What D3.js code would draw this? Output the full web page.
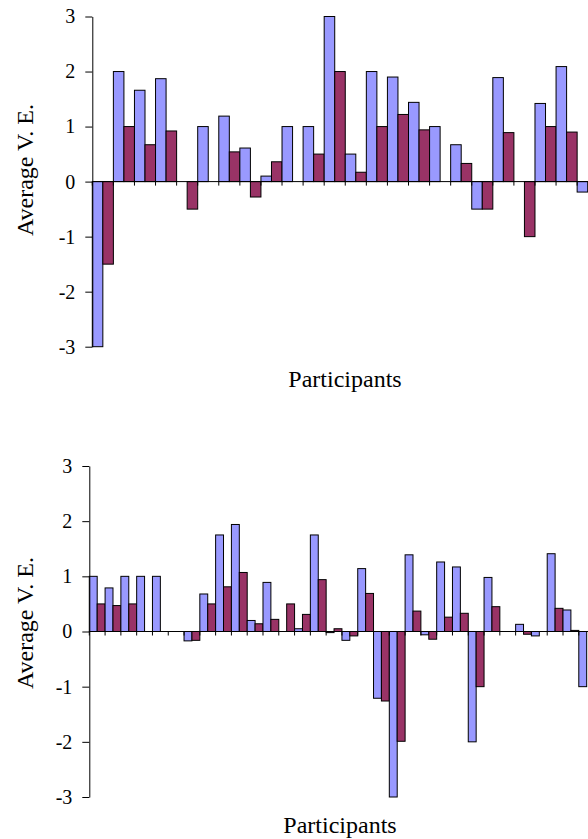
<!DOCTYPE html>
<html lang="en">
<head>
    <meta charset="UTF-8">
    <title>Average V. E. by participant</title>
    <script src="https://d3js.org/d3.v7.min.js"></script>
    <style>
        body { margin: 0; background: #fff; }
        svg { display: block; }
        svg text { font-family: "Liberation Serif", "Times New Roman", Times, serif; fill: #000; }
    </style>
</head>
<body>
    <svg id="chart" width="588" height="839"></svg>

<script>
    // values (blue = first series, maroon = second)
    var topBlue   = [-3, 2, 1.66, 1.87, 0, 1, 1.19, 0.61, 0.1, 1, 1, 3, 0.5, 2, 1.9, 1.44, 1, 0.67, -0.5, 1.89, 0, 1.42, 2.09, -0.19]
    var topMaroon = [-1.5, 1, 0.67, 0.92, -0.5, 0, 0.54, -0.28, 0.36, 0, 0.5, 2, 0.17, 1, 1.22, 0.94, 0, 0.33, -0.5, 0.89, -1, 1, 0.9, 0]

    var bottomBlue   = [1, 0.79, 1, 1, 1, 0, -0.17, 0.68, 1.75, 1.94, 0.2, 0.89, 0, 0.05, 1.75, -0.02, -0.16, 1.14, -1.21, -3, 1.39, -0.06, 1.26, 1.17, -2, 0.98, 0, 0.13, -0.08, 1.41, 0.39, -1]
    var bottomMaroon = [0.5, 0.47, 0.5, 0, 0, 0, -0.16, 0.5, 0.81, 1.07, 0.14, 0.22, 0.5, 0.31, 0.94, 0.05, -0.08, 0.69, -1.26, -1.99, 0.37, -0.14, 0.26, 0.33, -1, 0.45, 0, -0.05, 0, 0.42, 0.02, 0]

    var yTicks = [-3, -2, -1, 0, 1, 2, 3]
    var yTickLabels = ["-3", "-2", "-1", "0", "1", "2", "3"]
    var seriesKeys = ["blue", "maroon"]
    var colors = { blue: "#9999ff", maroon: "#993366" }

    var serif = "'Liberation Serif', 'Times New Roman', Times, serif"

    var svg = d3.select("#chart"),
        width = +svg.attr("width")

    function drawPanel(blue, maroon, left, step, yTop, yBottom, titleY, xTitleX, xTitleY) {
        var rows = blue.map(function(d, i) { return { i: i, blue: d, maroon: maroon[i] } })

        var x = d3.scaleBand()
            .domain(rows.map(function(d) { return d.i }))
            .range([left, left + rows.length * step])
            .padding(0)

        var xSub = d3.scaleBand()
            .domain(seriesKeys)
            .range([0, x.bandwidth()])
            .padding(0)

        var y = d3.scaleLinear()
            .domain([-3, 3])
            .range([yBottom, yTop])

        var g = svg.append("g")

        // bars
        g.selectAll("g.cat")
          .data(rows)
          .enter()
          .append("g")
            .attr("transform", function(d) { return "translate(" + x(d.i) + ",0)" })
          .selectAll("rect")
          .data(function(d) { return seriesKeys.map(function(k) { return { key: k, v: d[k] } }) })
          .enter()
          .append("rect")
            .attr("x", function(d) { return xSub(d.key) })
            .attr("width", xSub.bandwidth())
            .attr("y", function(d) { return y(Math.max(0, d.v)) })
            .attr("height", function(d) { return Math.abs(y(d.v) - y(0)) })
            .attr("fill", function(d) { return colors[d.key] })
            .attr("stroke", "#000")
            .attr("stroke-width", 1)

        // y axis
        var yAxis = g.append("g")
            .attr("transform", "translate(" + left + ",0)")
            .call(d3.axisLeft(y).tickValues(yTicks).tickSize(7).tickSizeOuter(0).tickPadding(10)
                .tickFormat(function(d, i) { return yTickLabels[i] }))
        yAxis.attr("font-family", serif).attr("font-size", 20)
        yAxis.select(".domain").attr("stroke", "#000")
        yAxis.selectAll(".tick line").attr("stroke", "#000")
        yAxis.selectAll("text")
            .attr("font-family", serif)
            .attr("font-size", 20)
            .attr("fill", "#000")

        // x axis on the zero line, ticks between categories
        g.append("line")
            .attr("x1", left).attr("x2", width)
            .attr("y1", y(0)).attr("y2", y(0))
            .attr("stroke", "#000")
        g.selectAll("line.xtick")
          .data(rows)
          .enter()
          .append("line")
            .attr("x1", function(d) { return x(d.i) })
            .attr("x2", function(d) { return x(d.i) })
            .attr("y1", y(0))
            .attr("y2", y(0) + 4)
            .attr("stroke", "#000")

        // titles
        g.append("text")
            .attr("transform", "translate(33," + titleY + ") rotate(-90)")
            .attr("text-anchor", "middle")
            .attr("font-family", serif)
            .attr("font-size", 24)
            .text("Average V. E.")

        g.append("text")
            .attr("x", xTitleX)
            .attr("y", xTitleY)
            .attr("text-anchor", "middle")
            .attr("font-family", serif)
            .attr("font-size", 24)
            .text("Participants")
    }

    drawPanel(topBlue, topMaroon, 92.3, 21.08, 16.5, 346.7, 170, 345, 387)
    drawPanel(bottomBlue, bottomMaroon, 89.3, 15.79, 466, 797, 623, 340, 833)
</script>
</body>
</html>
